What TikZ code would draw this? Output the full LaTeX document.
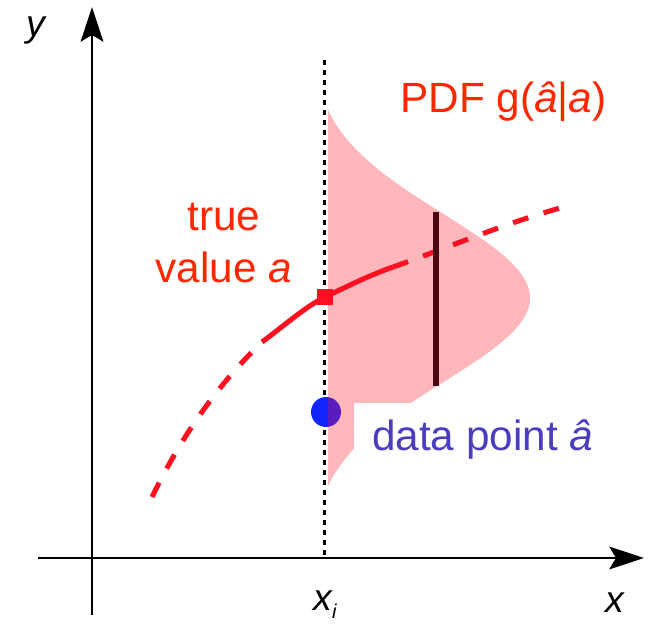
\documentclass[tikz,border=0pt]{standalone}
\usepackage{fontspec}
\setmainfont{Liberation Sans}
\usetikzlibrary{arrows.meta}

\definecolor{truered}{RGB}{255,16,32}
\definecolor{labelred}{RGB}{255,38,0}
\definecolor{dotblue}{RGB}{18,36,255}
\definecolor{datablue}{RGB}{75,62,190}
\definecolor{barred}{RGB}{74,8,16}

\tikzset{every picture/.style={line width=0.75pt}}
\tikzset{
  axis/.style={line width=1.9pt, -{Stealth[length=26pt,width=17pt,inset=5pt]}},
  guide/.style={line width=2.2pt, dash pattern={on 3.4pt off 4.1pt}},
  truecurve/.style={line width=3.8pt, draw=truered},
  truedash/.style={truecurve, dash pattern={on 12pt off 12pt}},
  barline/.style={line width=5.2pt, draw=barred},
  biglabel/.style={font=\fontsize{31.7}{39}\selectfont, inner sep=0pt},
  axislabel/.style={font=\fontsize{28}{32}\selectfont\itshape, inner sep=0pt},
}

\begin{document}
\begin{tikzpicture}[x=0.75pt,y=0.75pt,yscale=-1,xscale=1]
	\useasboundingbox (0,0) rectangle (664,624);
	
	%Coordinates
	\coordinate (ybot) at (92,615);
	\coordinate (ytop) at (92,7);
	\coordinate (xleft) at (38,558);
	\coordinate (xright) at (644,558);
	\coordinate (xitop) at (324.5,60);
	\coordinate (xibot) at (324.5,558);
	\coordinate (bartop) at (436,212);
	\coordinate (barbot) at (436,386);
	\coordinate (c0) at (152,497);
	\coordinate (c1) at (262,342);
	\coordinate (c2) at (393,267);
	\coordinate (c3) at (560,208);
	
	%Axes
	\draw [axis] (ybot) -- (ytop) ;
	\draw [axis] (xleft) -- (xright) ;
	%Dotted line at x_i
	\draw [guide] (xitop) -- (xibot) ;
	
	%Data point
	\node [circle, fill=dotblue, inner sep=0pt, minimum size=22.5pt] (hat) at (326,412) {};
	
	%PDF
	\fill [truered, opacity=0.3] (328,110) -- plot [domain=110:486, samples=100] ({328+202*(exp(-0.5*(((\x-298)/84)^2))-0.0817)/0.9183}, \x) -- (328,486) -- cycle ;
	
	%True value curve
	\node [rectangle, fill=truered, inner sep=0pt, minimum size=11.5pt] (true) at (325,297) {};
	\draw [truedash] (c0) .. controls (187,425) and (225,378) .. (c1) ;
	\draw [truecurve] (c1) .. controls (285,325) and (305,307) .. (true.center) .. controls (348,286) and (370,275) .. (c2) ;
	\draw [truedash] (c2) .. controls (450,247) and (500,225) .. (c3) ;
	
	%Bar
	\draw [barline] (bartop) -- (barbot) ;
	
	% Text Node
	\node [biglabel, text=labelred, anchor=base west] (pdf) at (400,113) {PDF g(\textit{â}|\textit{a})};
	% Text Node
	\node [biglabel, text=labelred, align=center, anchor=north] (truelbl) at (224,203) {true\\value \textit{a}};
	% Text Node
	\node [biglabel, text=datablue, fill=white, inner xsep=14pt, inner ysep=12pt, anchor=base west] (datalbl) at (353,450) {data point \textit{â}};
	% Text Node
	\node [axislabel, anchor=base west] (ylbl) at (26,37) {y};
	% Text Node
	\node [axislabel, anchor=base west] (xlbl) at (605,612) {x};
	% Text Node
	\node [axislabel, anchor=base west] (xilbl) at (313,610) {x\raisebox{-6pt}{\fontsize{15}{18}\selectfont i}};
	
\end{tikzpicture}
\end{document}
